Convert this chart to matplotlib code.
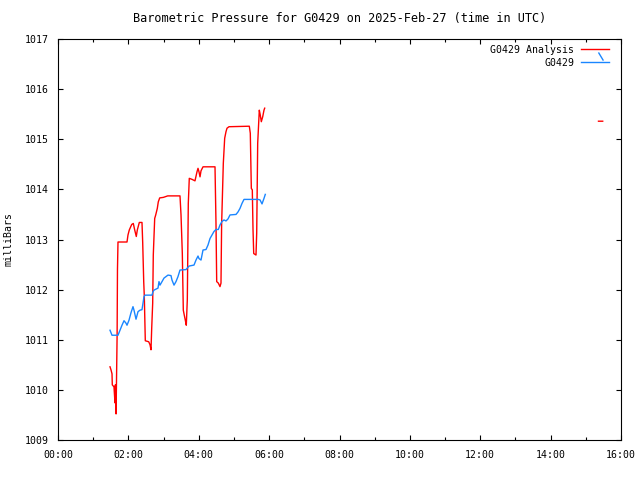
import matplotlib
matplotlib.use("Agg")
import matplotlib.pyplot as plt
import numpy as np

# hours UTC, pressure in mbar (NaN breaks the line like a gap in the data)
red_t = [1.478, 1.506, 1.535, 1.543, 1.591, 1.620, 1.630, 1.650, 1.680, 1.690, 1.705,
         1.961, 1.989, 2.026, 2.095, 2.140, 2.180, 2.225, 2.254, 2.311, 2.387, 2.407,
         2.436, 2.453, 2.481, 2.578, 2.615, 2.643, 2.663, 2.691, 2.708, 2.748, 2.777,
         2.822, 2.850, 2.890, 2.993, 3.118, 3.467, 3.496, 3.533, 3.561, 3.589, 3.618,
         3.646, 3.675, 3.703, 3.731, 3.808, 3.893, 3.950, 3.979, 4.007, 4.036, 4.064,
         4.121, 4.462, 4.490, 4.510, 4.556, 4.604, 4.632, 4.650, 4.698, 4.737, 4.774,
         4.803, 4.860, 5.437, 5.465, 5.494, 5.522, 5.542, 5.562, 5.627, 5.647, 5.675,
         5.721, 5.749, 5.778, 5.818, 5.854, 5.874, np.nan, 15.36, 15.48]
red_p = [1010.46, 1010.40, 1010.32, 1010.10, 1010.06, 1009.74, 1010.10, 1009.52, 1011.10,
         1012.40, 1012.95, 1012.95, 1013.09, 1013.19, 1013.30, 1013.32, 1013.19, 1013.06,
         1013.19, 1013.34, 1013.34, 1012.94, 1012.16, 1011.86, 1010.98, 1010.96, 1010.90,
         1010.80, 1011.23, 1011.73, 1012.69, 1013.42, 1013.49, 1013.62, 1013.75, 1013.83,
         1013.84, 1013.87, 1013.87, 1013.49, 1012.72, 1011.59, 1011.49, 1011.39, 1011.29,
         1011.80, 1013.72, 1014.22, 1014.20, 1014.17, 1014.35, 1014.42, 1014.35, 1014.25,
         1014.37, 1014.45, 1014.45, 1013.32, 1012.16, 1012.13, 1012.06, 1012.13, 1013.30,
         1014.52, 1015.02, 1015.15, 1015.22, 1015.25, 1015.26, 1015.12, 1014.02, 1013.99,
         1013.20, 1012.72, 1012.69, 1013.13, 1014.92, 1015.58, 1015.48, 1015.35, 1015.45,
         1015.58, 1015.62, np.nan, 1015.36, 1015.36]

blue_t = [1.478, 1.535, 1.705, 1.762, 1.819, 1.876, 1.933, 1.961, 2.018, 2.075, 2.131,
          2.160, 2.217, 2.274, 2.330, 2.387, 2.416, 2.444, 2.473, 2.671, 2.700, 2.728,
          2.842, 2.870, 2.899, 2.956, 3.012, 3.126, 3.211, 3.240, 3.297, 3.353, 3.410,
          3.467, 3.638, 3.723, 3.865, 3.922, 3.979, 4.007, 4.064, 4.121, 4.206, 4.263,
          4.320, 4.377, 4.433, 4.490, 4.556, 4.604, 4.661, 4.718, 4.774, 4.831, 4.888,
          5.059, 5.116, 5.172, 5.229, 5.286, 5.684, 5.741, 5.798, 5.854, 5.891,
          np.nan, 15.37, 15.49]
blue_p = [1011.19, 1011.09, 1011.09, 1011.19, 1011.29, 1011.38, 1011.33, 1011.29, 1011.39,
          1011.54, 1011.66, 1011.59, 1011.41, 1011.56, 1011.59, 1011.60, 1011.73, 1011.86,
          1011.89, 1011.89, 1011.96, 1011.99, 1012.03, 1012.16, 1012.09, 1012.16, 1012.23,
          1012.29, 1012.28, 1012.19, 1012.09, 1012.16, 1012.26, 1012.39, 1012.40, 1012.47,
          1012.49, 1012.59, 1012.67, 1012.62, 1012.59, 1012.79, 1012.80, 1012.89, 1013.02,
          1013.09, 1013.16, 1013.20, 1013.20, 1013.29, 1013.36, 1013.39, 1013.37, 1013.41,
          1013.49, 1013.50, 1013.55, 1013.62, 1013.72, 1013.80, 1013.80, 1013.79, 1013.71,
          1013.82, 1013.90, np.nan, 1016.72, 1016.58]

xticks = np.arange(0, 17, 2)
xminor = np.arange(1, 16, 2)
xlabels = ["%02d:00" % h for h in xticks]
yticks = np.arange(1009, 1018, 1)

plt.rcParams['font.family'] = ['DejaVu Sans Mono']
plt.rcParams['font.size'] = 7.1

fig = plt.figure(figsize=(6.4, 4.8), dpi=100)
ax = fig.add_axes([58/640, 1-440/480, (621-58)/640, (440-39)/480])

ax.plot(red_t, red_p, color="#ff0000", lw=1, label="G0429 Analysis")
ax.plot(blue_t, blue_p, color="#1a86ff", lw=1, label="G0429")

ax.set_xlim(0, 16)
ax.set_ylim(1009, 1017)
ax.set_xticks(xticks)
ax.set_xticks(xminor, minor=True)
ax.set_xticklabels(xlabels)
ax.set_yticks(yticks)
ax.tick_params(which="major", direction="in", top=True, right=True, length=3.5, width=0.8, pad=7)
ax.tick_params(which="minor", direction="in", top=True, length=2, width=0.8)
for s in ax.spines.values():
    s.set_linewidth(0.8)

ax.set_title("Barometric Pressure for G0429 on 2025-Feb-27 (time in UTC)", pad=12)
ax.set_ylabel("milliBars", labelpad=8)

ax.legend(loc="upper right", bbox_to_anchor=(0.9858, 0.995), frameon=False,
          markerfirst=False, handlelength=2.85, borderaxespad=0,
          labelspacing=0.3, handletextpad=0.7)

fig.savefig("out.png", dpi=100)
